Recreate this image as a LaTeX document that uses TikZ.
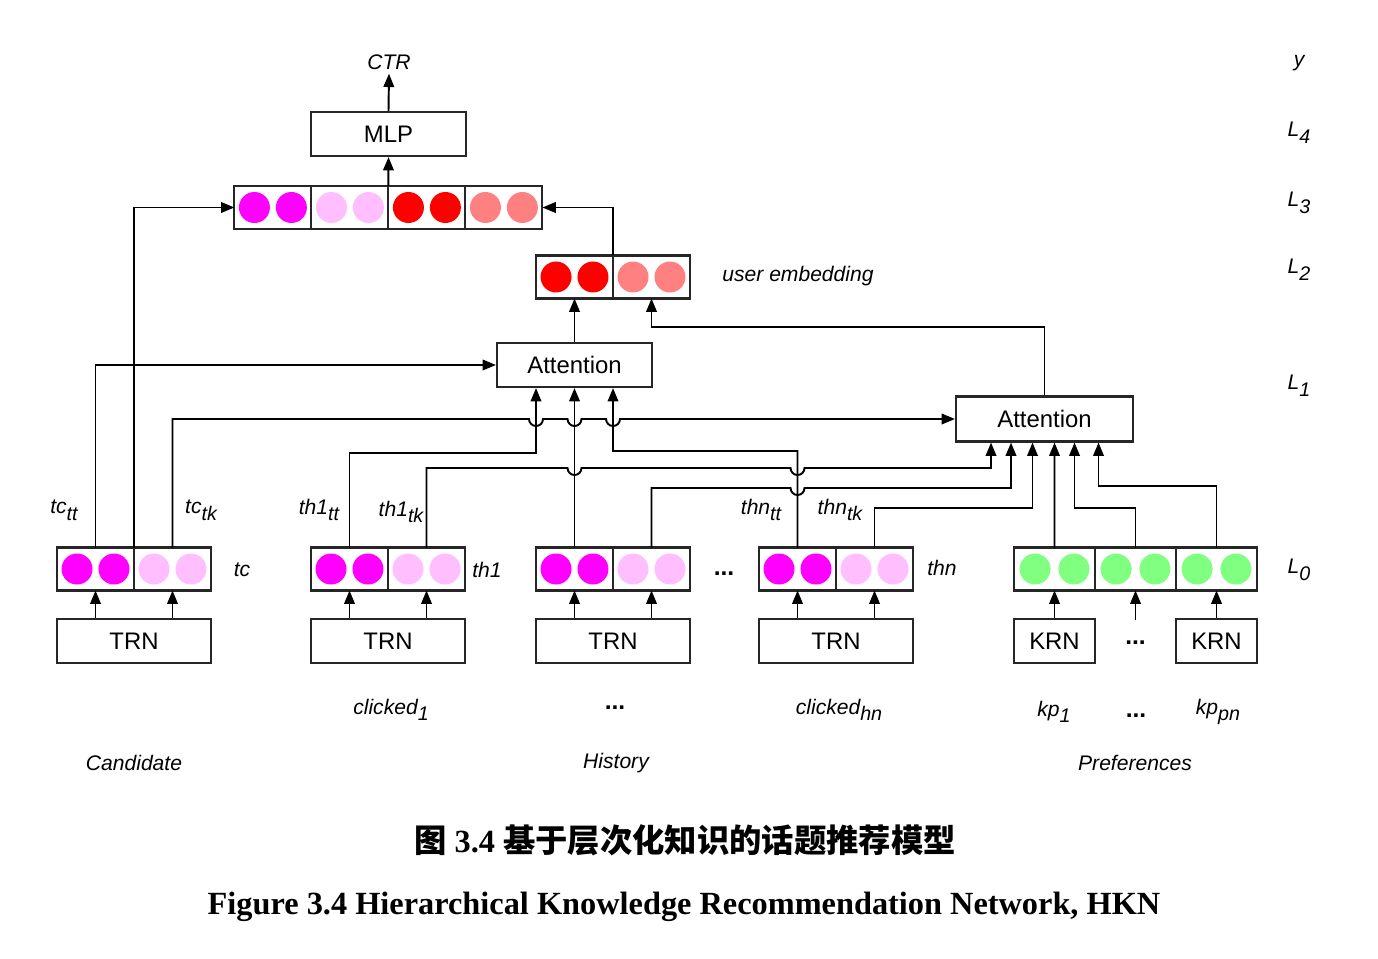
\documentclass[tikz,border=0pt]{standalone}
\usepackage{fontspec}
\setmainfont{Liberation Serif}
\setsansfont{Liberation Sans}
\newfontfamily\cjk{Noto Sans CJK SC}
\usetikzlibrary{arrows.meta}
\definecolor{embmag}{RGB}{255,0,255}
\definecolor{embpink}{RGB}{255,191,255}
\definecolor{embred}{RGB}{255,0,0}
\definecolor{embsalmon}{RGB}{255,128,128}
\definecolor{embgreen}{RGB}{128,255,128}

\newcommand{\lsub}[1]{\raisebox{-0.6ex}{\fontsize{5.6}{6}\selectfont #1}}
% one segment of an embedding vector: name, centre, colour, width
\newcommand{\embseg}[4]{%
  \node[seg, minimum width=#4cm] (#1) at (#2) {};
  \fill[#3] (#1.center) ++(-0.24*#4,0) circle (0.155)
                        ++(0.48*#4,0) circle (0.155);
}

\begin{document}
\begin{tikzpicture}[
    font=\sffamily\fontsize{6.8}{8}\selectfont,
    box/.style  ={draw=black!85, line width=0.6pt, minimum height=0.44cm,
                  inner sep=0pt},
    seg/.style  ={draw=black!85, line width=0.6pt, minimum height=0.43cm,
                  inner sep=0pt, outer sep=0pt},
    lbl/.style  ={font=\sffamily\itshape\fontsize{6}{7}\selectfont, inner sep=1pt},
    dots/.style ={font=\sffamily\bfseries\fontsize{7}{8}\selectfont, inner sep=1pt},
    arr/.style  ={-{Triangle[length=3.8pt, width=3pt]}, line width=0.55pt},
    capt/.style ={font=\rmfamily\bfseries\fontsize{9.2}{11}\selectfont},
  ]
  \useasboundingbox (0,0) rectangle (13.78,9.58);

  % ---- top: MLP and output ----
  \node[box, minimum width=1.55cm] (mlp) at (3.885,8.24) {MLP};
  \node[lbl] (ctr) at (3.89,8.96) {CTR};

  % ---- L3: concatenated vector ----
  \embseg{l3a}{2.729,7.505}{embmag}{0.77}
  \embseg{l3b}{3.499,7.505}{embpink}{0.77}
  \embseg{l3c}{4.269,7.505}{embred}{0.77}
  \embseg{l3d}{5.039,7.505}{embsalmon}{0.77}

  % ---- L2: user embedding ----
  \embseg{ueA}{5.745,6.81}{embred}{0.77}
  \embseg{ueB}{6.515,6.81}{embsalmon}{0.77}
  \node[lbl] (uelbl) at (7.98,6.82) {user embedding};

  % ---- L1: attention ----
  \node[box, minimum width=1.55cm] (attA) at (5.745,5.93) {Attention};
  \node[box, minimum width=1.77cm, minimum height=0.45cm] (attB) at (10.445,5.39) {Attention};

  % ---- L0: vectors ----
  \embseg{tcA}{0.955,3.89}{embmag}{0.77}
  \embseg{tcB}{1.725,3.89}{embpink}{0.77}
  \embseg{thA}{3.495,3.89}{embmag}{0.77}
  \embseg{thB}{4.265,3.89}{embpink}{0.77}
  \embseg{hmA}{5.745,3.89}{embmag}{0.77}
  \embseg{hmB}{6.515,3.89}{embpink}{0.77}
  \embseg{tnA}{7.975,3.89}{embmag}{0.77}
  \embseg{tnB}{8.745,3.89}{embpink}{0.77}
  \embseg{kpA}{10.545,3.89}{embgreen}{0.81}
  \embseg{kpB}{11.355,3.89}{embgreen}{0.81}
  \embseg{kpC}{12.165,3.89}{embgreen}{0.81}

  % ---- encoders ----
  \node[box, minimum width=1.54cm] (trnC) at (1.34,3.17) {TRN};
  \node[box, minimum width=1.54cm] (trnA) at (3.88,3.17) {TRN};
  \node[box, minimum width=1.54cm] (trnM) at (6.13,3.17) {TRN};
  \node[box, minimum width=1.54cm] (trnN) at (8.36,3.17) {TRN};
  \node[box, minimum width=0.81cm] (krnA) at (10.545,3.17) {KRN};
  \node[dots, minimum height=0.44cm, inner sep=0pt] (kdots) at (11.355,3.15) {...};
  \node[box, minimum width=0.81cm] (krnC) at (12.165,3.17) {KRN};

  \foreach \b/\s in {trnC/tcA, trnC/tcB, trnA/thA, trnA/thB, trnM/hmA, trnM/hmB,
                     trnN/tnA, trnN/tnB, krnA/kpA, kdots/kpB, krnC/kpC}
    \draw[arr] (\b.north -| \s) -- (\s.south);

  % ---- entry points on the attention boxes ----
  \foreach \i/\dx in {1/-0.385, 2/0, 3/0.385}
    \coordinate (aIn\i) at ([xshift=\dx cm]attA.south);
  \foreach \i/\dx in {1/-0.535, 2/-0.335, 3/-0.12, 4/0.10, 5/0.30, 6/0.54}
    \coordinate (bIn\i) at ([xshift=\dx cm]attB.south);

  % ---- upper connectors ----
  \draw[arr] (mlp.north) -- (ctr.south);
  \draw[arr] (l3b.north east) -- (mlp.south);
  \draw[arr] (tcA.north east) |- (l3a.west);
  \draw[arr] (ueA.north east) |- (l3d.east);
  \draw[arr] (attA.north) -- (ueA.south);
  \draw[arr] (attB.north) -- ++(0,0.685) -| (ueB.south);

  % ---- into the first attention ----
  \draw[arr] (tcA.north) |- (attA.west);
  \draw[arr] (thA.north) |- (5.36,5.05) -- (aIn1);
  \draw[arr] (hmA.north) -- (aIn2);
  \draw[arr] (tnA.north) |- (6.13,5.07) -- (aIn3);

  % ---- into the second attention (line hops under the verticals) ----
  \draw[arr] (tcB.north) |- (5.29,5.39)
    arc[start angle=180, end angle=360, radius=0.07] -- (5.675,5.39)
    arc[start angle=180, end angle=360, radius=0.07] -- (6.06,5.39)
    arc[start angle=180, end angle=360, radius=0.07] -- (attB.west);
  \draw[arr] (thB.north) |- (5.675,4.90)
    arc[start angle=180, end angle=360, radius=0.07] -- (7.905,4.90)
    arc[start angle=180, end angle=360, radius=0.07] -| (bIn1);
  \draw[arr] (hmB.north) |- (7.905,4.70)
    arc[start angle=180, end angle=360, radius=0.07] -| (bIn2);
  \draw[arr] (tnB.north) -- ++(0,0.395) -| (bIn3);
  \draw[arr] (kpA.north) -- (bIn4);
  \draw[arr] (kpB.north) -- ++(0,0.395) -| (bIn5);
  \draw[arr] (kpC.north) -- ++(0,0.615) -| (bIn6);

  % ---- labels ----
  \node[lbl] (lbtctt) at (0.64,4.48) {tc\lsub{tt}};
  \node[lbl] (lbtctk) at (2.01,4.48) {tc\lsub{tk}};
  \node[lbl] (lbthtt) at (3.19,4.48) {th1\lsub{tt}};
  \node[lbl] (lbthtk) at (4.01,4.46) {th1\lsub{tk}};
  \node[lbl] (lbtntt) at (7.61,4.48) {thn\lsub{tt}};
  \node[lbl] (lbtntk) at (8.40,4.48) {thn\lsub{tk}};
  \node[lbl] (lbtc) at (2.42,3.88) {tc};
  \node[lbl] (lbth) at (4.87,3.88) {th1};
  \node[dots] (hdots) at (7.24,3.84) {...};
  \node[lbl] (lbtn) at (9.42,3.90) {thn};

  \node[lbl] (clk1) at (3.91,2.48) {clicked\lsub{1}};
  \node[dots] (clkd) at (6.15,2.50) {...};
  \node[lbl] (clkn) at (8.39,2.48) {clicked\lsub{hn}};
  \node[lbl] (kp1) at (10.54,2.46) {kp\lsub{1}};
  \node[dots] (kpd) at (11.36,2.42) {...};
  \node[lbl] (kpn) at (12.18,2.46) {kp\lsub{pn}};
  \node[lbl] (cand) at (1.34,1.95) {Candidate};
  \node[lbl] (hist) at (6.16,1.95) {History};
  \node[lbl] (pref) at (11.35,1.95) {Preferences};

  % layer names
  \foreach \t/\y [count=\k] in {y/8.95, L\lsub{4}/8.25, L\lsub{3}/7.55,
                                L\lsub{2}/6.88, L\lsub{1}/5.72, L\lsub{0}/3.88}
    \node[lbl] (lay\k) at (12.99,\y) {\t};

  % ---- caption ----
  \node[capt] (capcn) at (6.85,1.18) {{\cjk 图} 3.4 {\cjk 基于层次化知识的话题推荐模型}};
  \node[capt] (capen) at (6.84,0.51) {Figure 3.4 Hierarchical Knowledge Recommendation Network, HKN};

\end{tikzpicture}
\end{document}
